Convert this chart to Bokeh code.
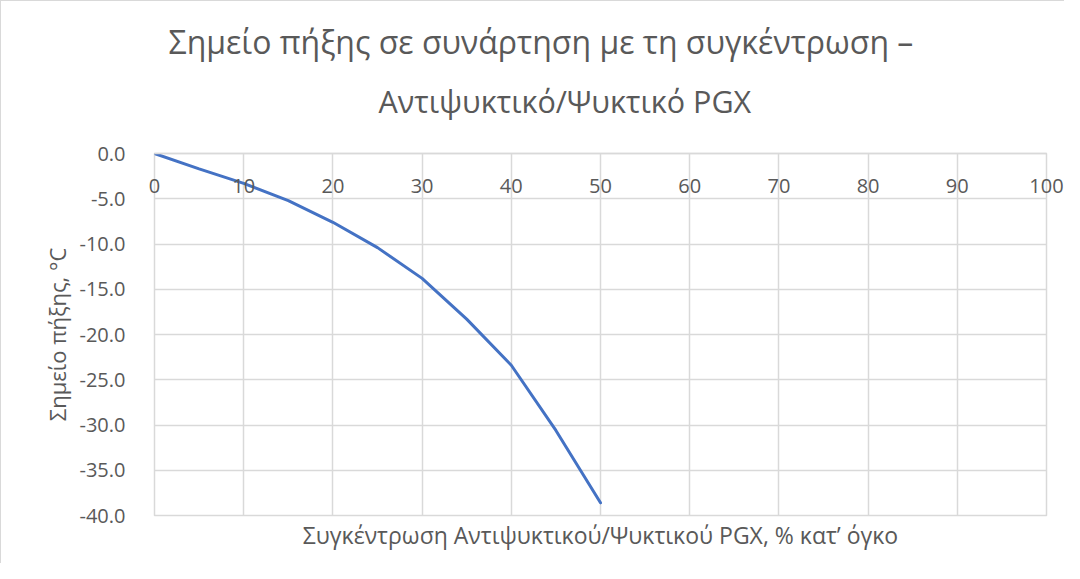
from bokeh.plotting import figure
from bokeh.models import FixedTicker, Range1d, NumeralTickFormatter, Title
from bokeh.embed import file_html
from bokeh.resources import INLINE

# Data
concentration = [0, 5, 10, 15, 20, 25, 30, 35, 40, 45, 50]
freezing_point = [0.0, -1.7, -3.3, -5.2, -7.6, -10.4, -13.8, -18.3, -23.4, -30.6, -38.6]

x_ticks = [0, 10, 20, 30, 40, 50, 60, 70, 80, 90, 100]
y_ticks = [0, -5, -10, -15, -20, -25, -30, -35, -40]

title_line1 = "Σημείο πήξης σε συνάρτηση με τη συγκέντρωση –"
title_line2 = "Αντιψυκτικό/Ψυκτικό PGX"
x_title = "Συγκέντρωση Αντιψυκτικού/Ψυκτικού PGX, % κατ’ όγκο"
y_title = "Σημείο πήξης, °C"

FONT = "Open Sans"
TXT = "#595959"
GRID = "#d9d9d9"

p = figure(width=1064, height=563, output_backend="svg", toolbar_location=None,
           x_range=Range1d(0, 100), y_range=Range1d(-40, 0), x_axis_location="above",
           min_border_left=153, min_border_right=19, min_border_top=152, min_border_bottom=49)
p.styles = {"border-left": "1px solid #d9d9d9", "border-top": "1px solid #d9d9d9"}

p.line(concentration, freezing_point, line_color="#4472C4", line_width=3, line_cap="round")

# two-line chart title (innermost first), centred over the chart area
p.add_layout(Title(text=title_line2, align="left", offset=224, text_font=FONT, text_font_size="30.5px",
                   text_font_style="normal", text_color=TXT, standoff=63), "above")
p.add_layout(Title(text=title_line1, align="left", offset=14, text_font=FONT, text_font_size="32px",
                   text_font_style="normal", text_color=TXT, standoff=-32), "above")

# x axis along the top edge (y = 0), labels pushed down inside the plot area
xa = p.xaxis[0]
xa.ticker = FixedTicker(ticks=x_ticks)
xa.axis_line_color = GRID
xa.axis_line_width = 1.5
xa.major_tick_line_color = None
xa.major_tick_out = 0
xa.major_tick_in = 0
xa.minor_tick_line_color = None
xa.major_label_text_font = FONT
xa.major_label_text_font_size = "20px"
xa.major_label_text_color = TXT
xa.major_label_standoff = -39

p.add_layout(Title(text=x_title, align="center", text_font=FONT, text_font_size="23px",
                   text_font_style="normal", text_color=TXT, standoff=3), "below")

ya = p.yaxis[0]
ya.ticker = FixedTicker(ticks=y_ticks)
ya.formatter = NumeralTickFormatter(format="0.0")
ya.axis_line_color = None
ya.major_tick_line_color = None
ya.minor_tick_line_color = None
ya.major_label_text_font = FONT
ya.major_label_text_font_size = "20px"
ya.major_label_text_color = TXT
ya.major_label_standoff = 23
ya.axis_label = y_title
ya.axis_label_text_font = FONT
ya.axis_label_text_font_size = "22px"
ya.axis_label_text_font_style = "normal"
ya.axis_label_text_color = TXT
ya.axis_label_standoff = 5

p.xgrid.grid_line_color = GRID
p.ygrid.grid_line_color = GRID
p.xgrid.grid_line_width = 1.5
p.ygrid.grid_line_width = 1.5
p.outline_line_color = GRID
p.outline_line_width = 1.5

open("out.html", "w").write(file_html(p, INLINE))
